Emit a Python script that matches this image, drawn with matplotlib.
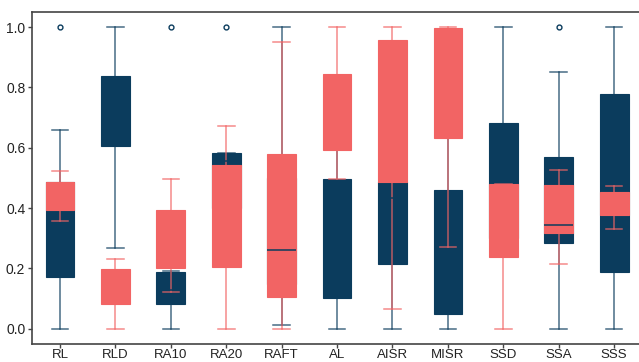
import matplotlib
matplotlib.use("Agg")
import matplotlib.pyplot as plt

# categorias
labels = ['RL', 'RLD', 'RA10', 'RA20', 'RAFT', 'AL', 'AISR', 'MISR', 'SSD', 'SSA', 'SSS']

# serie azul
azul_lo  = [0.000, 0.269, 0.000, 0.300, 0.011, 0.000, 0.000, 0.000, 0.250, 0.000, 0.000]
azul_q1  = [0.171, 0.607, 0.081, 0.400, 0.150, 0.103, 0.216, 0.049, 0.300, 0.286, 0.189]
azul_med = [0.300, 0.720, 0.130, 0.556, 0.262, 0.300, 0.432, 0.250, 0.580, 0.343, 0.550]
azul_q3  = [0.487, 0.838, 0.189, 0.582, 0.500, 0.498, 0.488, 0.461, 0.683, 0.570, 0.777]
azul_hi  = [0.658, 1.000, 0.191, 0.582, 1.000, 0.620, 0.700, 0.750, 1.000, 0.850, 1.000]
azul_out = [[1.0], [], [1.0], [1.0], [], [], [], [], [], [1.0], []]

# serie coral
coral_lo  = [0.356, 0.000, 0.121, 0.000, 0.000, 0.496, 0.064, 0.272, 0.000, 0.214, 0.331]
coral_q1  = [0.395, 0.081, 0.202, 0.205, 0.104, 0.591, 0.488, 0.633, 0.238, 0.317, 0.378]
coral_med = [0.440, 0.150, 0.300, 0.400, 0.350, 0.700, 0.750, 0.900, 0.400, 0.400, 0.420]
coral_q3  = [0.485, 0.197, 0.393, 0.543, 0.580, 0.845, 0.958, 0.998, 0.479, 0.477, 0.452]
coral_hi  = [0.524, 0.230, 0.498, 0.673, 0.950, 1.000, 1.000, 1.000, 0.479, 0.527, 0.474]

azul = '#0b3c5d'
coral = '#f26464'


def stats(lo, q1, med, q3, hi, out=None):
    res = []
    for i in range(len(lo)):
        res.append({'whislo': lo[i], 'q1': q1[i], 'med': med[i], 'q3': q3[i],
                    'whishi': hi[i], 'fliers': out[i] if out else []})
    return res


def estilo(bp, color, z):
    # z = zorder base de la serie
    for b in bp['boxes']:
        b.set_facecolor(color)
        b.set_edgecolor(color)
        b.set_linewidth(0.8)
        b.set_zorder(z + 0.5)
    for l in bp['whiskers'] + bp['caps']:
        l.set_color(color)
        l.set_alpha(0.75)
        l.set_linewidth(1.1)
        l.set_zorder(z)
    for m in bp['medians']:
        m.set_color(color)
        m.set_linewidth(1.1)
    for f in bp['fliers']:
        f.set_marker('o')
        f.set_markersize(3.5)
        f.set_markerfacecolor('none')
        f.set_markeredgecolor(color)
        f.set_markeredgewidth(1)
        f.set_zorder(6)


plt.rcParams['font.family'] = ['Liberation Sans', 'DejaVu Sans']

fig = plt.figure(figsize=(6.39, 3.62), dpi=100)
ax = fig.add_axes([0.0505, 0.05, 0.954, 0.917])

pos = list(range(len(labels)))

bp1 = ax.bxp(stats(azul_lo, azul_q1, azul_med, azul_q3, azul_hi, azul_out), positions=pos,
             widths=0.52, capwidths=0.3, patch_artist=True)
bp2 = ax.bxp(stats(coral_lo, coral_q1, coral_med, coral_q3, coral_hi), positions=pos,
             widths=0.52, capwidths=0.3, patch_artist=True, showfliers=False)
estilo(bp1, azul, 1.5)
estilo(bp2, coral, 2.5)
# medianas azules encima de todo, las coral se confunden con su caja
for m in bp1['medians']:
    m.set_zorder(5)
for m in bp2['medians']:
    m.set_zorder(3.1)

ax.set_xlim(-0.5, len(labels) - 0.5)
ax.set_ylim(-0.05, 1.05)
ax.set_xticks(pos)
ax.set_xticklabels(labels)
ax.set_yticks([0.0, 0.2, 0.4, 0.6, 0.8, 1.0])
ax.set_yticklabels(['0.0', '0.2', '0.4', '0.6', '0.8', '1.0'])
ax.tick_params(labelsize=10, length=3, width=1, color='#444444', labelcolor='#222222', pad=2)
ax.tick_params(axis='x', labelsize=9.5, pad=1)
for s in ax.spines.values():
    s.set_color('#444444')
    s.set_linewidth(1.2)

fig.savefig('out.png', dpi=100)
